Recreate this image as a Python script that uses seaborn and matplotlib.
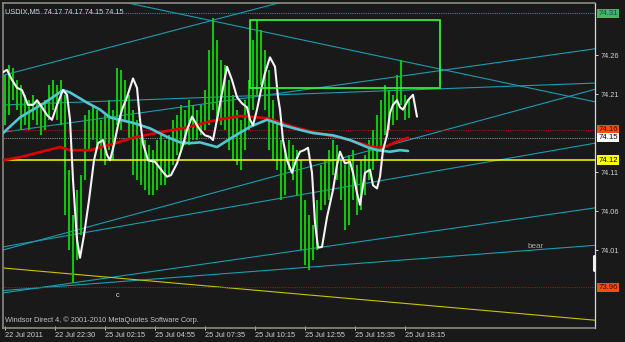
import matplotlib
matplotlib.use("Agg")
import matplotlib.pyplot as plt
import matplotlib.transforms as mtrans
import numpy as np
import pandas as pd
import seaborn as sns

# ---------------- data (bar index = M5 bar, price = USDIX) ----------------
bar_high = [74.234, 74.247, 74.243, 74.228, 74.222, 74.209, 74.202, 74.209, 74.202, 74.196,
            74.202, 74.222, 74.228, 74.222, 74.228, 74.209, 74.113, 74.055, 74.087, 74.106,
            74.183, 74.190, 74.196, 74.190, 74.177, 74.183, 74.202, 74.190, 74.243, 74.241,
            74.228, 74.209, 74.190, 74.177, 74.157, 74.151, 74.145, 74.138, 74.151, 74.157,
            74.151, 74.157, 74.177, 74.183, 74.196, 74.190, 74.202, 74.196, 74.190, 74.196,
            74.215, 74.266, 74.307, 74.279, 74.254, 74.247, 74.228, 74.209, 74.190, 74.177,
            74.202, 74.228, 74.279, 74.305, 74.292, 74.266, 74.241, 74.202, 74.177, 74.151,
            74.138, 74.151, 74.145, 74.138, 74.125, 74.074, 74.055, 74.042, 74.074, 74.119,
            74.125, 74.138, 74.151, 74.145, 74.125, 74.119, 74.132, 74.138, 74.119, 74.125,
            74.132, 74.151, 74.164, 74.183, 74.202, 74.222, 74.215, 74.209, 74.234, 74.254,
            74.209, 74.202]
bar_low = [74.170, 74.183, 74.202, 74.190, 74.164, 74.170, 74.164, 74.177, 74.170, 74.157,
           74.164, 74.177, 74.190, 74.177, 74.170, 74.055, 74.010, 73.968, 73.997, 74.029,
           74.100, 74.138, 74.151, 74.145, 74.125, 74.119, 74.138, 74.125, 74.170, 74.164,
           74.177, 74.151, 74.106, 74.100, 74.093, 74.087, 74.081, 74.081, 74.087, 74.093,
           74.093, 74.106, 74.119, 74.132, 74.138, 74.145, 74.145, 74.151, 74.151, 74.157,
           74.164, 74.170, 74.190, 74.177, 74.170, 74.164, 74.138, 74.125, 74.119, 74.113,
           74.138, 74.164, 74.190, 74.209, 74.222, 74.190, 74.138, 74.125, 74.113, 74.074,
           74.081, 74.113, 74.100, 74.081, 74.010, 73.991, 73.984, 73.997, 74.010, 74.061,
           74.068, 74.074, 74.106, 74.100, 74.074, 74.036, 74.042, 74.074, 74.055, 74.061,
           74.081, 74.100, 74.113, 74.125, 74.138, 74.157, 74.164, 74.170, 74.177, 74.196,
           74.177, 74.179]

white_bar = [-0.5, 0.5, 1.75, 3.0, 4.25, 5.75, 7.0, 8.0, 9.25, 10.5, 11.75, 13.0, 14.5, 15.5,
             16.25, 17.0, 18.0, 18.75, 19.75, 21.0, 22.25, 23.25, 24.5, 25.5, 26.25, 27.25,
             28.25, 29.25, 30.5, 32.0, 33.0, 33.75, 34.5, 35.75, 37.5, 39.5, 40.5, 41.5, 43.0,
             44.5, 45.5, 46.75, 48.0, 48.75, 50.0, 51.25, 52.0, 53.0, 54.25, 55.5, 56.75, 58.0,
             59.25, 60.5, 61.25, 62.0, 63.0, 64.0, 65.0, 66.25, 67.5, 68.25, 68.75, 69.5, 70.5,
             71.75, 72.75, 73.75, 74.75, 75.75, 76.75, 77.5, 78.25, 79.25, 80.5, 82.0, 83.0,
             83.75, 85.0, 86.25, 87.0, 88.0, 88.75, 90.0, 91.25, 92.0, 93.0, 93.75, 94.5, 95.5,
             96.25, 97.0, 98.0, 98.75, 99.5, 100.75, 102.0, 103.0]
white_price = [74.238, 74.241, 74.228, 74.218, 74.215, 74.196, 74.196, 74.202, 74.193, 74.183,
               74.177, 74.196, 74.215, 74.209, 74.177, 74.100, 74.023, 74.000, 74.029, 74.074,
               74.125, 74.147, 74.151, 74.132, 74.125, 74.145, 74.170, 74.190, 74.206, 74.230,
               74.218, 74.177, 74.147, 74.125, 74.123, 74.110, 74.104, 74.106, 74.121, 74.145,
               74.164, 74.181, 74.170, 74.164, 74.157, 74.155, 74.151, 74.177, 74.211, 74.245,
               74.228, 74.206, 74.198, 74.193, 74.177, 74.170, 74.190, 74.215, 74.237, 74.257,
               74.245, 74.206, 74.190, 74.151, 74.125, 74.109, 74.125, 74.136, 74.138, 74.141,
               74.109, 74.045, 74.013, 74.014, 74.052, 74.087, 74.119, 74.136, 74.121, 74.123,
               74.109, 74.083, 74.068, 74.109, 74.113, 74.093, 74.089, 74.104, 74.138, 74.157,
               74.186, 74.196, 74.202, 74.193, 74.190, 74.202, 74.209, 74.181]

red_bar = [-0.5, 3.75, 13.75, 16.25, 21.25, 26.25, 32.0, 38.75, 45.5, 51.25, 58.75, 65.5,
           72.0, 78.0, 83.75, 88.75, 92.0, 95.0, 97.5, 100.75]
red_price = [74.125, 74.129, 74.142, 74.138, 74.138, 74.145, 74.154, 74.161, 74.167, 74.175,
             74.182, 74.179, 74.168, 74.160, 74.154, 74.147, 74.142, 74.142, 74.148, 74.154]

cyan_bar = [-0.5, 3.75, 7.0, 10.0, 14.5, 16.25, 20.5, 23.75, 26.25, 32.0, 36.25, 40.5, 43.75,
            46.25, 48.75, 53.0, 57.0, 61.25, 65.5, 69.5, 73.75, 77.0, 82.0, 86.25, 90.5, 93.0,
            96.25, 98.75, 100.75]
cyan_price = [74.160, 74.180, 74.190, 74.199, 74.215, 74.212, 74.199, 74.190, 74.180, 74.173,
              74.166, 74.155, 74.148, 74.147, 74.148, 74.142, 74.155, 74.168, 74.177, 74.170,
              74.164, 74.160, 74.157, 74.151, 74.142, 74.138, 74.136, 74.138, 74.137]

# trend lines: start bar, start price, end bar, end price
trend_x0 = [-0.5, 21.25, -0.5, -0.5, -0.5, -0.5, -0.5, -0.5]
trend_y0 = [74.234, 74.337, 74.161, 74.196, 74.010, 74.014, 73.955, 73.958]
trend_x1 = [76.0, 147.5, 147.5, 147.5, 147.5, 147.5, 147.5, 147.5]
trend_y1 = [74.337, 74.200, 74.268, 74.224, 74.216, 74.147, 74.064, 74.016]

yellow_trend = [(-0.5, 73.987), (147.5, 73.920)]

# horizontal levels
level_top = 74.3137
level_red_hi = 74.164
level_bid = 74.154
level_yellow = 74.1254
level_red_lo = 73.962

# box (bar from/to, price from/to)
box_bar = [61.25, 108.75]
box_price = [74.218, 74.305]

y_ticks = [74.26, 74.21, 74.11, 74.06, 74.01]
y_tick_labels = ["74.26", "74.21", "74.11", "74.06", "74.01"]
box_labels = [("74.31", 74.3137, "#46b560", "#0b4f55"),
              ("74.16", 74.164, "#ff4a10", "#3a0a00"),
              ("74.15", 74.154, "#ffffff", "#000000"),
              ("74.12", 74.1254, "#ffff00", "#000000"),
              ("73.96", 73.962, "#ff4a10", "#3a0a00")]

x_ticks = [0, 12.5, 25, 37.5, 50, 62.5, 75, 87.5, 100]
x_tick_labels = ["22 Jul 2011", "22 Jul 22:30", "25 Jul 02:15", "25 Jul 04:55",
                 "25 Jul 07:35", "25 Jul 10:15", "25 Jul 12:55", "25 Jul 15:35",
                 "25 Jul 18:15"]

title_text = "USDIX,M5  74.17 74.17 74.15 74.15"
footer_text = "Windsor Direct 4, \u00a9 2001-2010 MetaQuotes Software Corp."

# ---------------- drawing ----------------
BG = "#191919"
sns.set_theme(style="dark", rc={"axes.facecolor": BG, "figure.facecolor": BG})
plt.rcParams['font.family'] = ['Liberation Sans', 'DejaVu Sans']
FS = 5.3

fig = plt.figure(figsize=(6.25, 3.42), dpi=100)
ax = fig.add_axes([3 / 625, 14 / 342, 592 / 625, 325 / 342])
ax.set_facecolor(BG)
ax.set_xlim(-0.5, 147.5)
ax.set_ylim(73.910, 74.3267)

TEAL = "#1a9cb2"
for x0, y0, x1, y1 in zip(trend_x0, trend_y0, trend_x1, trend_y1):
    ax.plot([x0, x1], [y0, y1], color=TEAL, lw=0.8, zorder=2)
ax.plot([p[0] for p in yellow_trend], [p[1] for p in yellow_trend], color="#c8c400", lw=0.8, zorder=2)

ax.axhline(level_top, color="#1f8e9c", lw=0.8, ls=(0, (1, 1)), zorder=2)
ax.axhline(level_red_hi, color="#b01010", lw=0.8, ls=(0, (1, 1)), zorder=2)
ax.axhline(level_bid, color="#8a8a8a", lw=0.8, ls=(0, (1, 1)), zorder=2)
ax.axhline(level_red_lo, color="#b01010", lw=0.8, ls=(0, (1, 1)), zorder=2)

idx = np.arange(len(bar_high))
ax.vlines(idx, bar_low, bar_high, color="#0ec40e", lw=1.5, zorder=3)

ax.axhline(level_yellow, color="#ffff00", lw=1.1, zorder=4)

red_df = pd.DataFrame({"bar": red_bar, "price": red_price})
cyan_df = pd.DataFrame({"bar": cyan_bar, "price": cyan_price})
white_df = pd.DataFrame({"bar": white_bar, "price": white_price})
sns.lineplot(data=red_df, x="bar", y="price", color="#e00000", lw=1.9, ax=ax,
             estimator=None, sort=False, zorder=5)
sns.lineplot(data=cyan_df, x="bar", y="price", color="#4fc8d2", lw=1.9, ax=ax,
             estimator=None, sort=False, zorder=5)
sns.lineplot(data=white_df, x="bar", y="price", color="#f4f4f4", lw=1.5, ax=ax,
             estimator=None, sort=False, zorder=6)

ax.add_patch(plt.Rectangle((box_bar[0], box_price[0]), box_bar[1] - box_bar[0],
                           box_price[1] - box_price[0], fill=False,
                           edgecolor="#38ff38", lw=1.2, zorder=7))

# small tick bar at right edge
ax.plot([147.3, 147.3], [73.985, 74.002], color="#f0f0f0", lw=2.2, zorder=7, clip_on=False)

ax.text(130.75, 74.015, "bear", color="#a8a8a8", fontsize=FS + 0.6, va="center", ha="left", zorder=8)
ax.text(28.25, 73.952, "c", color="#d8d8d8", fontsize=FS, va="center", ha="center", zorder=8)

ax.text(0.004, 0.985, title_text, transform=ax.transAxes, color="#d0d0d0",
        fontsize=FS, va="top", ha="left", zorder=9)
ax.text(0.004, 0.012, footer_text, transform=ax.transAxes, color="#c0c0c0",
        fontsize=FS, va="bottom", ha="left", zorder=9)

# axes styling
ax.set_xlabel("")
ax.set_ylabel("")
ax.grid(False)
for side in ["top", "left", "bottom"]:
    ax.spines[side].set_visible(True)
    ax.spines[side].set_color("#8a8a80")
    ax.spines[side].set_linestyle((0, (1, 1)))
    ax.spines[side].set_linewidth(1.2)
ax.spines["right"].set_visible(True)
ax.spines["right"].set_color("#d8d8d8")
ax.spines["right"].set_linewidth(0.9)

ax.yaxis.tick_right()
ax.set_yticks(y_ticks)
ax.set_yticklabels(y_tick_labels)
ax.tick_params(axis="y", colors="#d0d0d0", labelsize=FS, length=2.5, width=0.7, pad=1.5,
               direction="out", right=True, left=False)
ax.set_xticks(x_ticks)
ax.set_xticklabels(x_tick_labels, ha="left")
ax.tick_params(axis="x", colors="#d0d0d0", labelsize=FS, length=2.2, width=0.7, pad=1.5,
               direction="inout", bottom=True)
for lab in ax.get_xticklabels():
    lab.set_horizontalalignment("left")

trans = mtrans.blended_transform_factory(ax.transAxes, ax.transData)
for text, price, bg, fg in box_labels:
    ax.text(1.006, price, text, transform=trans, color=fg, fontsize=FS + 0.3,
            va="center", ha="left", zorder=10, clip_on=False,
            bbox=dict(facecolor=bg, edgecolor="none", pad=0.8))

fig.savefig("out.png", dpi=100, facecolor=BG)
